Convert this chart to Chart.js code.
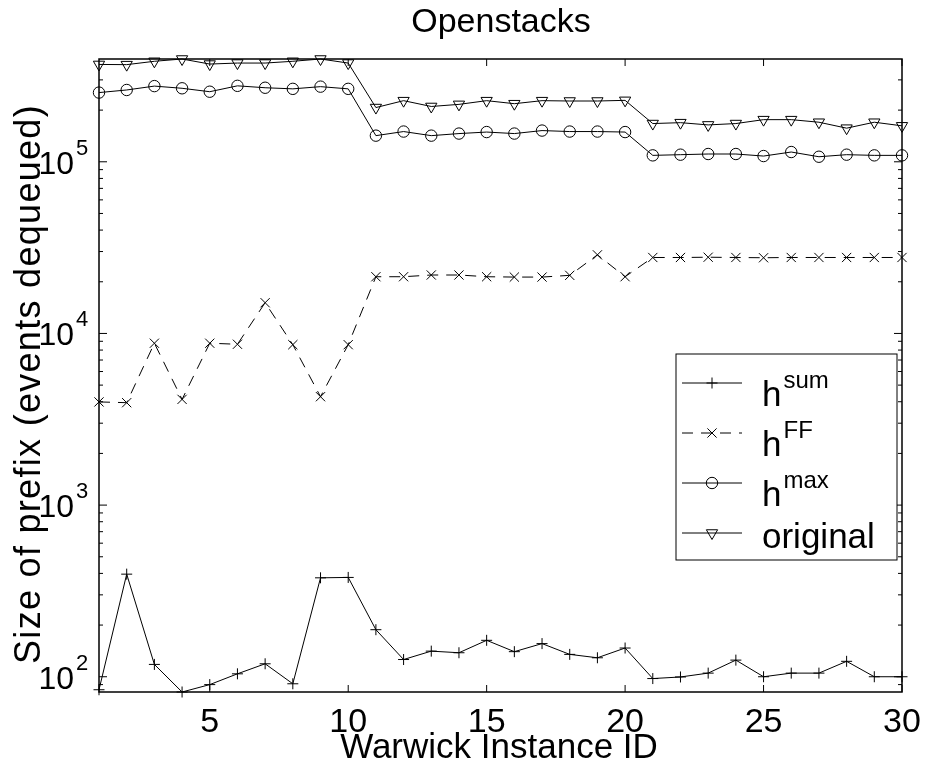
<!DOCTYPE html>
<html>
<head>
<meta charset="utf-8">
<script src="https://cdn.jsdelivr.net/npm/chart.js@4.4.1/dist/chart.umd.min.js"></script>
<style>
  html, body { margin: 0; padding: 0; background: #fff; }
  canvas { display: block; }
</style>
</head>
<body>
<canvas id="chart" width="925" height="769"></canvas>
<script>
// values (log y axis)
const instanceIds = [1, 2, 3, 4, 5, 6, 7, 8, 9, 10, 11, 12, 13, 14, 15,
                     16, 17, 18, 19, 20, 21, 22, 23, 24, 25, 26, 27, 28, 29, 30];
const hSum = [84, 396, 118, 81.5, 90, 104, 119, 91, 377, 379, 188, 126, 141, 138, 163,
              140, 156, 135, 129, 147, 97.6, 99.7, 105, 125, 100, 105, 105, 123, 100, 100];
const hFF = [3990, 3950, 8770, 4130, 8770, 8650, 15100, 8600, 4280, 8600, 21400, 21400, 21900, 21900, 21400,
             21300, 21300, 21800, 28700, 21400, 27700, 27700, 27800, 27700, 27600, 27700, 27700, 27700, 27700, 27700];
const hMax = [253000, 262000, 276000, 268000, 256000, 277000, 270000, 266000, 274000, 266000,
              142000, 150000, 142000, 146000, 149000, 146000, 152000, 150000, 150000, 149000,
              109000, 110000, 111000, 111000, 108000, 114000, 107000, 110000, 109000, 109000];
const original = [369000, 368000, 385000, 397000, 371000, 376000, 376000, 385000, 397000, 376000,
                  207000, 227000, 210000, 216000, 227000, 218000, 227000, 226000, 226000, 228000,
                  167000, 169000, 164000, 167000, 176000, 176000, 170000, 157000, 170000, 162000];

const seriesNames = ['h', 'h', 'h', 'original'];
const seriesSups = ['sum', 'FF', 'max', ''];
const xTickValues = [5, 10, 15, 20, 25, 30];
const yDecadeExponents = [2, 3, 4, 5];

const FONT = '"Liberation Sans", Arial, Helvetica, sans-serif';

function points(values) {
    return instanceIds.map((x, i) => ({ x: x, y: values[i] }));
}

function lineSet(label, values, style, extra) {
    return Object.assign({
        label: label,
        data: points(values),
        borderColor: '#000',
        borderWidth: 1,
        backgroundColor: 'rgba(0,0,0,0)',
        pointBackgroundColor: 'rgba(0,0,0,0)',
        pointBorderColor: '#000',
        pointBorderWidth: 1,
        pointStyle: style,
        tension: 0,
        clip: false
    }, extra);
}

// axes box, inward ticks, labels and legend (Matlab look)
const matlabFrame = {
    id: 'matlabFrame',
    afterDatasetsDraw(chart) {
        const ctx = chart.ctx;
        const a = chart.chartArea;
        const xs = chart.scales.x, ys = chart.scales.y;
        ctx.save();
        ctx.strokeStyle = '#000';
        ctx.fillStyle = '#000';

        // box
        ctx.lineWidth = 1.5;
        ctx.strokeRect(a.left, a.top, a.right - a.left, a.bottom - a.top);

        // x ticks + labels
        ctx.lineWidth = 1;
        ctx.font = '34px ' + FONT;
        ctx.textAlign = 'center';
        ctx.textBaseline = 'alphabetic';
        xTickValues.forEach(v => {
            const px = xs.getPixelForValue(v);
            ctx.beginPath();
            ctx.moveTo(px, a.bottom); ctx.lineTo(px, a.bottom - 7);
            ctx.moveTo(px, a.top); ctx.lineTo(px, a.top + 7);
            ctx.stroke();
            ctx.fillText(String(v), px, 732);
        });

        // y ticks (decades + minor)
        const yMin = ys.min, yMax = ys.max;
        yDecadeExponents.concat([1]).forEach(e => {
            for (let m = 1; m <= 9; m++) {
                const v = m * Math.pow(10, e);
                if (v < yMin || v > yMax) continue;
                const py = ys.getPixelForValue(v);
                const len = m === 1 ? 8 : 4;
                ctx.beginPath();
                ctx.moveTo(a.left, py); ctx.lineTo(a.left + len, py);
                ctx.moveTo(a.right, py); ctx.lineTo(a.right - len, py);
                ctx.stroke();
            }
        });
        yDecadeExponents.forEach(e => {
            const py = ys.getPixelForValue(Math.pow(10, e));
            ctx.font = '32px ' + FONT;
            ctx.textAlign = 'right';
            ctx.fillText('10', 74, py + 12);
            ctx.font = '22px ' + FONT;
            ctx.textAlign = 'left';
            ctx.fillText(String(e), 76, py - 7);
        });

        // titles
        ctx.textAlign = 'center';
        ctx.font = '34px ' + FONT;
        ctx.fillText('Openstacks', 501, 32);
        ctx.font = '35px ' + FONT;
        ctx.fillText('Warwick Instance ID', 499, 758);
        ctx.save();
        ctx.translate(40, 384);
        ctx.rotate(-Math.PI / 2);
        ctx.font = '36px ' + FONT;
        ctx.letterSpacing = '1.3px';
        ctx.fillText('Size of prefix (events dequeued)', 0, 0);
        ctx.letterSpacing = '0px';
        ctx.restore();

        // legend
        const box = { left: 676, top: 354, right: 897, bottom: 560 };
        ctx.fillStyle = '#fff';
        ctx.fillRect(box.left, box.top, box.right - box.left, box.bottom - box.top);
        ctx.lineWidth = 1;
        ctx.strokeRect(box.left, box.top, box.right - box.left, box.bottom - box.top);
        chart.data.datasets.forEach((ds, i) => {
            const ry = 383 + 50 * i;
            ctx.strokeStyle = '#000';
            ctx.lineWidth = ds.borderWidth;
            ctx.setLineDash(ds.borderDash || []);
            ctx.beginPath();
            ctx.moveTo(682, ry); ctx.lineTo(742, ry);
            ctx.stroke();
            ctx.setLineDash([]);
            ctx.fillStyle = 'rgba(0,0,0,0)';
            Chart.helpers.drawPoint(ctx, {
                pointStyle: ds.pointStyle,
                rotation: ds.pointRotation || 0,
                radius: ds.pointRadius,
                borderWidth: 1
            }, 712, ry);
            ctx.fillStyle = '#000';
            ctx.textAlign = 'left';
            ctx.font = '35px ' + FONT;
            const sup = seriesSups[i];
            const base = sup ? ry + 23 : ry + 15;
            ctx.fillText(seriesNames[i], 762, base);
            if (sup) {
                const w = ctx.measureText(seriesNames[i]).width;
                ctx.font = '24px ' + FONT;
                ctx.fillText(sup, 762 + w + 2, base - 18);
            }
        });
        ctx.restore();
    }
};

new Chart(document.getElementById('chart').getContext('2d'), {
    type: 'line',
    data: {
        datasets: [
            lineSet('h sum', hSum, 'cross', { pointRadius: 5.5 }),
            lineSet('h FF', hFF, 'crossRot', { pointRadius: 6.5, borderDash: [11, 8] }),
            lineSet('h max', hMax, 'circle', { pointRadius: 5.7 }),
            lineSet('original', original, 'triangle', { pointRadius: 6.5, pointRotation: 180 })
        ]
    },
    options: {
        responsive: false,
        animation: false,
        layout: { padding: { left: 99, top: 59, right: 23, bottom: 77 } },
        plugins: { legend: { display: false }, tooltip: { enabled: false }, title: { display: false } },
        scales: {
            x: { type: 'linear', display: false, min: 1, max: 30 },
            y: { type: 'logarithmic', display: false, min: Math.min(...hSum), max: Math.max(...original) }
        }
    },
    plugins: [matlabFrame]
});
</script>
</body>
</html>
